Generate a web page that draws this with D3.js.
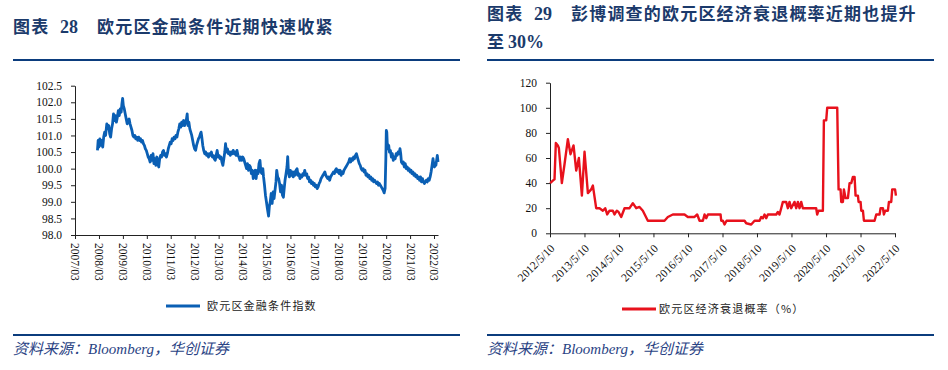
<!DOCTYPE html>
<html>
<head>
<meta charset="utf-8">
<title>欧元区金融条件与经济衰退概率</title>
<script src="https://cdn.jsdelivr.net/npm/d3@7"></script>
<style>
body { margin: 0; background: #fff; }
.title { font-family: "Noto Sans CJK SC", sans-serif; font-weight: bold; font-size: 17px; fill: #1b3a6b; letter-spacing: 1.2px; }
.title-num { font-family: "Liberation Serif", serif; font-weight: bold; font-size: 18px; fill: #1b3a6b; }
.rule { stroke: #0b3c7d; stroke-width: 2.2; }
.axis text { font-family: "Liberation Serif", serif; font-size: 11.5px; fill: #111; }
.axis path, .axis line { stroke: #222; }
.legend { font-family: "Noto Sans CJK SC", sans-serif; font-size: 11px; fill: #222; letter-spacing: 1.2px; }
.source { font-family: "Liberation Serif", "Noto Sans CJK SC", serif; font-style: italic; font-size: 15px; fill: #2a4384; }
</style>
</head>
<body>
<svg id="chart" width="948" height="370"></svg>
<script>
// ---- data: 欧元区金融条件指数 (decimal year, index) ----
var fciYears = [
  2008.10, 2008.13, 2008.16, 2008.20, 2008.24, 2008.28, 2008.32, 2008.36, 2008.40, 2008.44,
  2008.49, 2008.53, 2008.57, 2008.61, 2008.65, 2008.69, 2008.73, 2008.77, 2008.81, 2008.85,
  2008.89, 2008.93, 2008.97, 2009.01, 2009.05, 2009.09, 2009.12, 2009.15, 2009.18, 2009.22,
  2009.26, 2009.30, 2009.34, 2009.38, 2009.42, 2009.46, 2009.50, 2009.54, 2009.58, 2009.62,
  2009.66, 2009.70, 2009.74, 2009.78, 2009.82, 2009.86, 2009.90, 2009.94, 2009.98, 2010.02,
  2010.06, 2010.10, 2010.14, 2010.18, 2010.22, 2010.26, 2010.30, 2010.34, 2010.38, 2010.42,
  2010.46, 2010.50, 2010.54, 2010.58, 2010.62, 2010.66, 2010.70, 2010.74, 2010.78, 2010.82,
  2010.86, 2010.90, 2010.94, 2010.98, 2011.02, 2011.06, 2011.10, 2011.14, 2011.18, 2011.22,
  2011.26, 2011.30, 2011.34, 2011.38, 2011.42, 2011.46, 2011.50, 2011.54, 2011.58, 2011.62,
  2011.66, 2011.70, 2011.74, 2011.78, 2011.82, 2011.85, 2011.88, 2011.92, 2011.96, 2012.00,
  2012.04, 2012.08, 2012.12, 2012.16, 2012.20, 2012.24, 2012.28, 2012.32, 2012.36, 2012.40,
  2012.43, 2012.46, 2012.50, 2012.54, 2012.58, 2012.62, 2012.66, 2012.70, 2012.74, 2012.78,
  2012.82, 2012.86, 2012.90, 2012.94, 2012.98, 2013.02, 2013.06, 2013.10, 2013.14, 2013.18,
  2013.22, 2013.26, 2013.30, 2013.34, 2013.38, 2013.42, 2013.45, 2013.49, 2013.53, 2013.57,
  2013.61, 2013.65, 2013.69, 2013.73, 2013.77, 2013.81, 2013.85, 2013.89, 2013.93, 2013.97,
  2014.01, 2014.05, 2014.09, 2014.13, 2014.17, 2014.21, 2014.25, 2014.29, 2014.33, 2014.37,
  2014.41, 2014.45, 2014.49, 2014.53, 2014.57, 2014.61, 2014.65, 2014.69, 2014.73, 2014.77,
  2014.81, 2014.85, 2014.89, 2014.93, 2014.97, 2015.01, 2015.04, 2015.08, 2015.12, 2015.16,
  2015.20, 2015.25, 2015.28, 2015.32, 2015.36, 2015.40, 2015.44, 2015.48, 2015.52, 2015.56,
  2015.59, 2015.63, 2015.67, 2015.71, 2015.75, 2015.79, 2015.83, 2015.87, 2015.91, 2015.94,
  2015.98, 2016.02, 2016.05, 2016.08, 2016.12, 2016.16, 2016.20, 2016.24, 2016.28, 2016.32,
  2016.36, 2016.40, 2016.44, 2016.48, 2016.52, 2016.56, 2016.60, 2016.64, 2016.68, 2016.72,
  2016.76, 2016.80, 2016.84, 2016.88, 2016.92, 2016.96, 2017.00, 2017.04, 2017.08, 2017.12,
  2017.16, 2017.20, 2017.24, 2017.28, 2017.32, 2017.36, 2017.40, 2017.44, 2017.48, 2017.52,
  2017.56, 2017.60, 2017.64, 2017.68, 2017.72, 2017.76, 2017.80, 2017.84, 2017.88, 2017.92,
  2017.96, 2018.00, 2018.04, 2018.08, 2018.12, 2018.16, 2018.20, 2018.24, 2018.28, 2018.32,
  2018.36, 2018.40, 2018.44, 2018.48, 2018.52, 2018.56, 2018.60, 2018.64, 2018.68, 2018.72,
  2018.76, 2018.80, 2018.84, 2018.88, 2018.92, 2018.96, 2019.00, 2019.04, 2019.08, 2019.12,
  2019.16, 2019.20, 2019.24, 2019.28, 2019.32, 2019.36, 2019.40, 2019.44, 2019.48, 2019.52,
  2019.56, 2019.60, 2019.64, 2019.68, 2019.72, 2019.76, 2019.80, 2019.84, 2019.88, 2019.92,
  2019.96, 2020.00, 2020.04, 2020.08, 2020.12, 2020.15, 2020.17, 2020.19, 2020.21, 2020.24,
  2020.27, 2020.30, 2020.34, 2020.38, 2020.42, 2020.46, 2020.50, 2020.54, 2020.58, 2020.62,
  2020.66, 2020.70, 2020.74, 2020.77, 2020.80, 2020.84, 2020.88, 2020.92, 2020.96, 2021.00,
  2021.04, 2021.08, 2021.12, 2021.16, 2021.20, 2021.24, 2021.28, 2021.32, 2021.36, 2021.40,
  2021.44, 2021.48, 2021.52, 2021.56, 2021.60, 2021.64, 2021.68, 2021.72, 2021.76, 2021.80,
  2021.84, 2021.88, 2021.92, 2021.96, 2022.00, 2022.04, 2022.08, 2022.12, 2022.15, 2022.18,
  2022.21, 2022.24, 2022.27, 2022.30, 2022.33
];
var fciValues = [
  100.55, 100.85, 100.65, 100.90, 100.70, 100.85, 100.65, 100.95, 101.10, 101.00,
  101.35, 101.20, 101.30, 101.05, 100.95, 101.20, 101.35, 101.65, 101.45, 101.60,
  101.40, 101.55, 101.75, 101.60, 101.80, 101.70, 101.95, 102.12, 101.90, 101.80,
  101.65, 101.50, 101.35, 101.45, 101.50, 101.35, 101.25, 101.15, 101.00, 100.95,
  101.00, 100.90, 100.95, 100.85, 100.95, 100.85, 100.90, 100.80, 100.85, 100.75,
  100.70, 100.60, 100.55, 100.45, 100.35, 100.30, 100.20, 100.40, 100.25, 100.45,
  100.15, 100.30, 100.10, 100.35, 100.15, 100.05, 100.30, 100.40, 100.35, 100.50,
  100.55, 100.40, 100.45, 100.35, 100.45, 100.60, 100.70, 100.80, 100.75, 100.90,
  100.85, 100.95, 100.90, 101.00, 100.95, 101.10, 101.20, 101.35, 101.25, 101.40,
  101.30, 101.45, 101.30, 101.40, 101.50, 101.65, 101.30, 101.40, 101.20, 101.10,
  101.00, 100.85, 100.70, 100.60, 100.55, 100.70, 100.80, 100.90, 100.95, 101.05,
  101.10, 100.95, 100.70, 100.55, 100.45, 100.50, 100.40, 100.45, 100.35, 100.45,
  100.40, 100.50, 100.35, 100.40, 100.30, 100.25, 100.40, 100.55, 100.35, 100.40,
  100.30, 100.35, 100.20, 100.10, 100.30, 100.50, 100.75, 100.50, 100.60, 100.45,
  100.50, 100.40, 100.50, 100.45, 100.55, 100.45, 100.50, 100.40, 100.55, 100.40,
  100.35, 100.25, 100.35, 100.25, 100.35, 100.30, 100.20, 100.10, 100.00, 100.15,
  99.95, 100.10, 100.05, 99.85, 99.95, 99.70, 99.90, 99.95, 99.70, 99.95,
  99.85, 100.15, 100.25, 99.90, 99.85, 100.00, 99.75, 99.50, 99.20, 99.00,
  98.80, 98.57, 98.85, 99.00, 99.25, 98.95, 99.30, 99.10, 99.35, 99.60,
  99.95, 99.75, 99.70, 99.55, 99.30, 99.50, 99.20, 99.14, 99.45, 99.66,
  99.85, 100.05, 100.36, 99.90, 99.75, 99.95, 99.80, 99.90, 99.75, 99.90,
  99.80, 99.95, 100.00, 99.80, 99.85, 99.70, 99.80, 99.75, 99.85, 99.80,
  99.95, 99.80, 99.85, 99.70, 99.75, 99.60, 99.65, 99.55, 99.60, 99.50,
  99.55, 99.45, 99.50, 99.40, 99.45, 99.55, 99.60, 99.70, 99.75, 99.80,
  99.85, 99.90, 99.80, 99.75, 99.70, 99.75, 99.65, 99.75, 99.80, 99.85,
  99.90, 99.85, 99.95, 100.00, 99.90, 99.95, 99.85, 99.95, 99.80, 99.90,
  99.85, 99.95, 100.00, 100.05, 100.10, 100.15, 100.20, 100.30, 100.20, 100.30,
  100.25, 100.35, 100.30, 100.40, 100.45, 100.35, 100.25, 100.15, 100.10, 100.00,
  99.95, 100.00, 99.90, 99.95, 99.80, 99.85, 99.75, 99.80, 99.70, 99.75,
  99.65, 99.70, 99.60, 99.65, 99.60, 99.55, 99.60, 99.50, 99.55, 99.50,
  99.45, 99.40, 99.35, 99.27, 99.40, 100.30, 101.15, 101.10, 100.75, 100.60,
  100.70, 100.50, 100.55, 100.35, 100.45, 100.25, 100.35, 100.30, 100.45, 100.40,
  100.50, 100.45, 100.60, 100.45, 100.20, 100.15, 100.20, 100.05, 100.15, 100.00,
  100.05, 99.95, 100.00, 99.90, 99.95, 99.85, 99.90, 99.80, 99.85, 99.75,
  99.80, 99.70, 99.75, 99.65, 99.75, 99.60, 99.70, 99.60, 99.55, 99.60,
  99.65, 99.60, 99.70, 99.65, 99.75, 99.90, 100.10, 100.30, 100.15, 100.05,
  100.15, 100.10, 100.25, 100.40, 100.20
];
var fciTicks = ["2007/03", "2008/03", "2009/03", "2010/03", "2011/03", "2012/03", "2013/03", "2014/03",
                "2015/03", "2016/03", "2017/03", "2018/03", "2019/03", "2020/03", "2021/03", "2022/03"];
var fciYTicks = [98.0, 98.5, 99.0, 99.5, 100.0, 100.5, 101.0, 101.5, 102.0, 102.5];

// ---- data: 彭博调查的欧元区经济衰退概率 (decimal year, %) ----
var recYears = [
  2012.36, 2012.437, 2012.486, 2012.524, 2012.582, 2012.611, 2012.698, 2012.775, 2012.872, 2012.949,
  2013.036, 2013.114, 2013.191, 2013.278, 2013.355, 2013.452, 2013.548, 2013.597, 2013.693, 2013.790,
  2013.887, 2013.954, 2014.012, 2014.080, 2014.176, 2014.225, 2014.292, 2014.341, 2014.418, 2014.515,
  2014.660, 2014.756, 2014.853, 2014.949, 2015.046, 2015.191, 2015.674, 2015.771, 2015.916, 2016.254,
  2016.350, 2016.544, 2016.621, 2016.689, 2016.785, 2016.833, 2016.882, 2016.930, 2017.297, 2017.316,
  2017.365, 2017.413, 2017.471, 2017.993, 2018.041, 2018.186, 2018.283, 2018.428, 2018.476, 2018.524,
  2018.573, 2018.621, 2018.669, 2018.911, 2018.959, 2019.007, 2019.056, 2019.104, 2019.200, 2019.249,
  2019.297, 2019.346, 2019.442, 2019.491, 2019.539, 2019.587, 2019.636, 2019.684, 2020.070, 2020.099,
  2020.138, 2020.264, 2020.293, 2020.360, 2020.389, 2020.679, 2020.718, 2020.775, 2020.795, 2020.843,
  2020.872, 2020.921, 2020.988, 2021.036, 2021.085, 2021.133, 2021.181, 2021.210, 2021.278, 2021.297,
  2021.355, 2021.375, 2021.423, 2021.452, 2021.761, 2021.809, 2021.906, 2021.935, 2022.003, 2022.032,
  2022.070, 2022.148, 2022.177, 2022.244, 2022.273, 2022.355, 2022.38
];
var recValues = [
  40, 42, 43, 72, 70, 68, 40, 55, 75, 63,
  70, 50, 60, 30, 65, 32, 35, 38, 20, 20,
  18, 20, 15, 18, 18, 15, 18, 17, 13, 20,
  20, 24, 20, 21, 18, 10, 10, 13, 15, 15,
  13, 13, 15, 10, 10, 15, 12, 15, 15, 10,
  10, 7, 10, 10, 8, 7, 10, 10, 13, 12,
  15, 12, 15, 15, 17, 15, 20, 25, 25, 20,
  25, 20, 25, 20, 25, 20, 25, 20, 20, 15,
  18, 18, 90, 90, 100, 100, 35, 35, 25, 25,
  35, 28, 28, 40, 40, 45, 45, 30, 30, 25,
  25, 18, 18, 10, 10, 15, 15, 20, 20, 15,
  18, 18, 25, 25, 35, 35, 30
];
var recTicks = ["2012/5/10", "2013/5/10", "2014/5/10", "2015/5/10", "2016/5/10", "2017/5/10",
                "2018/5/10", "2019/5/10", "2020/5/10", "2021/5/10", "2022/5/10"];
var recYTicks = [0, 20, 40, 60, 80, 100, 120];

function yearToDate(y) {
  var yr = Math.floor(y);
  var a = new Date(yr, 0, 1), b = new Date(yr + 1, 0, 1);
  return new Date(+a + (y - yr) * (b - a));
}

var svg = d3.select("#chart");

// ---- headers and footers ----
function header(x, num, lines) {
  var by = lines.length > 1 ? 20 : 33;
  svg.append("text").attr("class", "title").attr("x", x).attr("y", by).text("图表");
  svg.append("text").attr("class", "title-num").attr("x", x + 47).attr("y", by).text(num);
  svg.append("text").attr("class", "title").attr("x", x + 84).attr("y", by).text(lines[0]);
  if (lines.length > 1) {
    svg.append("text").attr("class", "title").attr("x", x).attr("y", 48).text("至");
    svg.append("text").attr("class", "title-num").attr("x", x + 21).attr("y", 48).text(lines[1]);
  }
}
header(13, "28", ["欧元区金融条件近期快速收紧"]);
header(487, "29", ["彭博调查的欧元区经济衰退概率近期也提升", "30%"]);

[[13, 460], [487, 934]].forEach(function (r) {
  svg.append("line").attr("class", "rule").attr("x1", r[0]).attr("x2", r[1]).attr("y1", 60).attr("y2", 60);
  svg.append("line").attr("class", "rule").attr("x1", r[0]).attr("x2", r[1]).attr("y1", 335).attr("y2", 335);
  svg.append("text").attr("class", "source").attr("x", r[0]).attr("y", 354).text("资料来源：Bloomberg，华创证券");
});

// ---- left chart ----
var parseYM = d3.timeParse("%Y/%m");
var x1 = d3.scaleTime().domain([parseYM("2007/03"), parseYM("2022/05")]).range([75, 438]);
var y1 = d3.scaleLinear().domain([98, 102.5]).range([235, 85.7]);

svg.append("g").attr("class", "axis").attr("transform", "translate(75,0)")
  .call(d3.axisLeft(y1).tickValues(fciYTicks).tickFormat(d3.format(".1f")).tickSize(4).tickSizeOuter(0).tickPadding(9));

var gx1 = svg.append("g").attr("class", "axis").attr("transform", "translate(0,235)")
  .call(d3.axisBottom(x1).tickValues(fciTicks.map(parseYM)).tickFormat(d3.timeFormat("%Y/%m")).tickSize(4).tickSizeOuter(0));
gx1.selectAll("text")
  .attr("transform", "rotate(90)").attr("x", 8).attr("y", 0).attr("dy", "0.35em")
  .style("text-anchor", "start");

var fciData = fciYears.map(function (y, i) { return { d: yearToDate(y), v: fciValues[i] }; });
svg.append("path").datum(fciData)
  .attr("fill", "none").attr("stroke", "#0a5fb4").attr("stroke-width", 2.8).attr("stroke-linejoin", "round")
  .attr("d", d3.line().x(function (p) { return x1(p.d); }).y(function (p) { return y1(p.v); }));

svg.append("line").attr("x1", 166).attr("x2", 200).attr("y1", 306).attr("y2", 306)
  .attr("stroke", "#0a5fb4").attr("stroke-width", 3);
svg.append("text").attr("class", "legend").attr("x", 207).attr("y", 310).text("欧元区金融条件指数");

// ---- right chart ----
var parseYMD = d3.timeParse("%Y/%m/%d");
var x2 = d3.scaleTime().domain([parseYMD("2012/5/10"), parseYMD("2022/5/10")]).range([550, 895]);
var y2 = d3.scaleLinear().domain([0, 120]).range([233.3, 82.7]);

svg.append("g").attr("class", "axis").attr("transform", "translate(550,0)")
  .call(d3.axisLeft(y2).tickValues(recYTicks).tickSize(4).tickSizeOuter(0).tickPadding(9));

var gx2 = svg.append("g").attr("class", "axis").attr("transform", "translate(0,233.3)")
  .call(d3.axisBottom(x2).tickValues(recTicks.map(parseYMD)).tickFormat(function (d, i) { return recTicks[i]; })
    .tickSize(4).tickSizeOuter(0));
gx2.selectAll("text")
  .attr("transform", "translate(2,13) rotate(-45)").attr("x", 0).attr("y", 0).attr("dy", "0.35em")
  .style("text-anchor", "end");

var recData = recYears.map(function (y, i) { return { d: yearToDate(y), v: recValues[i] }; });
svg.append("path").datum(recData)
  .attr("fill", "none").attr("stroke", "#e8111c").attr("stroke-width", 2.4).attr("stroke-linejoin", "round")
  .attr("d", d3.line().x(function (p) { return x2(p.d); }).y(function (p) { return y2(p.v); }));

svg.append("line").attr("x1", 622).attr("x2", 656).attr("y1", 309).attr("y2", 309)
  .attr("stroke", "#e8111c").attr("stroke-width", 3);
svg.append("text").attr("class", "legend").attr("x", 659).attr("y", 313).text("欧元区经济衰退概率（%）");
</script>
</body>
</html>
